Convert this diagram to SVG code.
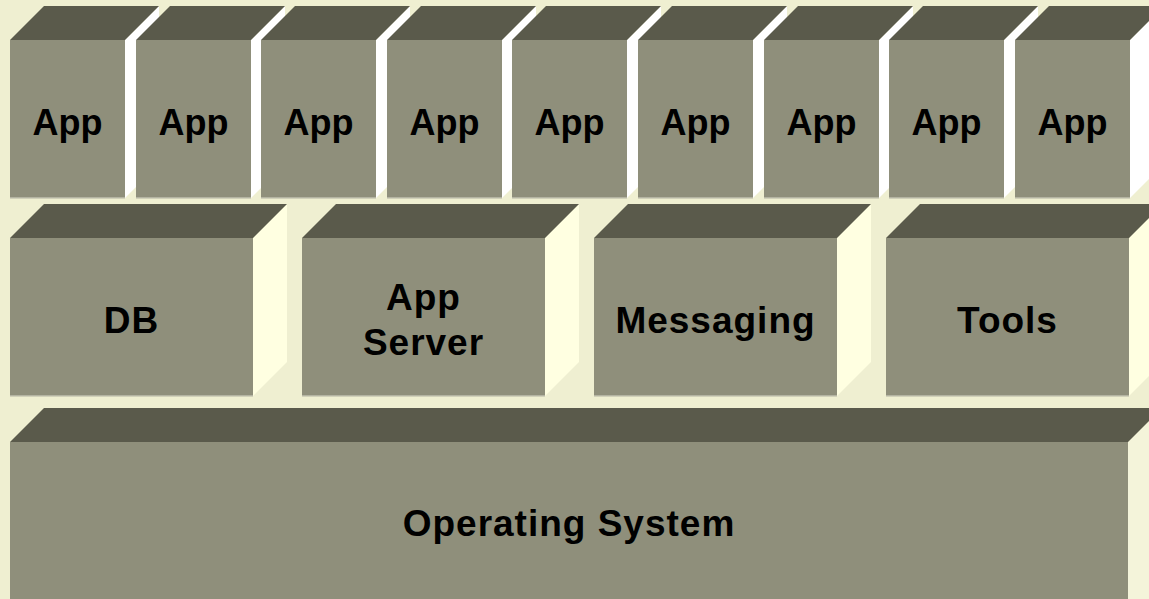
<svg xmlns="http://www.w3.org/2000/svg" width="1149" height="599" viewBox="0 0 1149 599">
<style>
.top{fill:#5a5a4b}
.front{fill:#8f8f7b}
.edge{fill:#b4b4a2}
.s1{fill:#ffffff}
.s2{fill:#ffffe1}
.s3{fill:#f4f4da}
.t{font-family:"Liberation Sans",Arial,sans-serif;font-weight:bold;fill:#000;text-anchor:middle}
.a{font-size:36px}
.b{font-size:37px;letter-spacing:1px}
</style>
<rect width="1149" height="599" fill="#efefd1"/>
<defs>
<g id="app">
<polygon class="s1" points="115,40 149,6 149,164 115,198"/>
<polygon class="top" points="0,40 34,6 149,6 115,40"/>
<rect class="front" x="0" y="40" width="115" height="158"/>
<rect class="edge" x="0" y="197" width="115" height="1.5"/>
<text class="t a" x="57.5" y="135">App</text>
</g>
<g id="mid">
<polygon class="s2" points="243,238 277,204 277,362 243,396"/>
<polygon class="top" points="0,238 34,204 277,204 243,238"/>
<rect class="front" x="0" y="238" width="243" height="158"/>
<rect class="edge" x="0" y="395" width="243" height="1.5"/>
</g>
</defs>
<g id="app1" transform="translate(10,0)"><use href="#app"/></g>
<g id="app2" transform="translate(136,0)"><use href="#app"/></g>
<g id="app3" transform="translate(261,0)"><use href="#app"/></g>
<g id="app4" transform="translate(387,0)"><use href="#app"/></g>
<g id="app5" transform="translate(512,0)"><use href="#app"/></g>
<g id="app6" transform="translate(638,0)"><use href="#app"/></g>
<g id="app7" transform="translate(764,0)"><use href="#app"/></g>
<g id="app8" transform="translate(889,0)"><use href="#app"/></g>
<g id="app9" transform="translate(1015,0)"><use href="#app"/></g>
<g id="db" transform="translate(10,0)"><use href="#mid"/><text class="t b" x="121.5" y="333">DB</text></g>
<g id="appserver" transform="translate(302,0)"><use href="#mid"/><text class="t b" x="121.5" y="310">App</text><text class="t b" x="121.5" y="355">Server</text></g>
<g id="messaging" transform="translate(594,0)"><use href="#mid"/><text class="t b" x="121.5" y="333">Messaging</text></g>
<g id="tools" transform="translate(886,0)"><use href="#mid"/><text class="t b" x="121.5" y="333">Tools</text></g>
<g id="os">
<polygon class="s3" points="1128,442 1162,408 1162,620 1128,654"/>
<polygon class="top" points="10,442 44,408 1162,408 1128,442"/>
<rect class="front" x="10" y="442" width="1118" height="170"/>
<text class="t b" x="569" y="536">Operating System</text>
</g>
<g id="connectors"/>
</svg>
